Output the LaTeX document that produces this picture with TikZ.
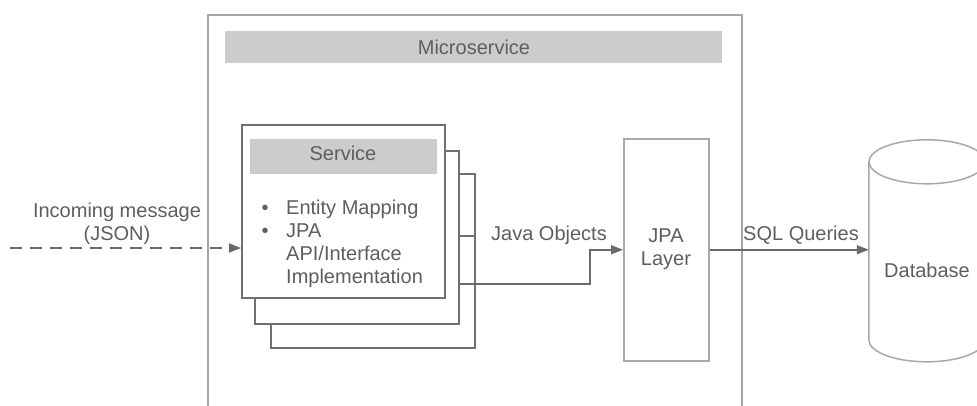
\documentclass[tikz,border=0pt]{standalone}
\usepackage{fontspec}
\setmainfont{Liberation Sans}
\usetikzlibrary{arrows.meta}

\definecolor{framegray}{HTML}{A6A6A6}
\definecolor{boxgray}{HTML}{707070}
\definecolor{lightbox}{HTML}{A8A8A8}
\definecolor{wiregray}{HTML}{6A6A6A}
\definecolor{bandfill}{HTML}{CCCCCC}
\definecolor{inkgray}{HTML}{5E5E5E}

\tikzset{
  txt/.style={inner sep=0pt, text=inkgray, font=\fontsize{20}{23}\selectfont},
  framebox/.style={draw=framegray, line width=1.6pt, fill=none, inner sep=0pt},
  band/.style={fill=bandfill, draw=none, inner sep=0pt},
  stackbox/.style={draw=boxgray, line width=1.5pt, fill=white, inner sep=0pt},
  layerbox/.style={draw=lightbox, line width=1.5pt, fill=white, inner sep=0pt},
  dbline/.style={draw=lightbox, line width=1.5pt},
  wire/.style={draw=wiregray, line width=1.5pt, line join=miter,
    -{Triangle[length=12pt,width=9pt]}},
  dashwire/.style={wire, dash pattern=on 12pt off 8pt},
}

\begin{document}
\begin{tikzpicture}[x=1pt,y=-1pt]
  \useasboundingbox (0,0) rectangle (977,405);
  \clip (0,0) rectangle (977,405);

  % outer microservice container (runs past the lower edge)
  \node[framebox, minimum width=534pt, minimum height=430pt, anchor=north west] (micro) at (207,14) {};
  \node[band, minimum width=497pt, minimum height=32pt, anchor=north west] (microhead) at (225,31) {};
  \node[txt, anchor=base] (microtitle) at (474,54) {Microservice};

  % stacked service boxes, back to front
  \node[stackbox, minimum width=204pt, minimum height=174pt, anchor=north west] (third) at (270,173) {};
  \node[stackbox, minimum width=204pt, minimum height=173pt, anchor=north west] (second) at (254,150) {};
  \draw[draw=boxgray, line width=1.5pt] (second.east |- 0,236) -- (third.east |- 0,236);
  \node[stackbox, minimum width=203pt, minimum height=173pt, anchor=north west] (front) at (241,124) {};
  \node[band, minimum width=187pt, minimum height=35pt, anchor=north west] (servicehead) at (250,139) {};
  \node[txt, anchor=base] (servicetitle) at (343,160) {Service};

  % bullet list inside the service box
  \node[txt, anchor=base] (dot1) at (265,214) {•};
  \node[txt, anchor=base west] (item1) at (286,214) {Entity Mapping};
  \node[txt, anchor=base] (dot2) at (265,237) {•};
  \node[txt, anchor=base west] (item2) at (286,237) {JPA};
  \node[txt, anchor=base west] (item3) at (286,260) {API/Interface};
  \node[txt, anchor=base west] (item4) at (286,283) {Implementation};

  % JPA layer
  \node[layerbox, minimum width=85pt, minimum height=222pt, anchor=north west] (jpa) at (623,138) {};
  \node[txt, anchor=base] (jpa1) at (666,242) {JPA};
  \node[txt, anchor=base] (jpa2) at (666,265) {Layer};

  % database cylinder
  \node[inner sep=0pt, minimum width=116pt, minimum height=222pt] (db) at (927,251) {};
  \draw[dbline] (db.north) ++(0,22) ellipse [x radius=58, y radius=22];
  \draw[dbline] (db.north west) ++(0,22) -- ++(0,178)
    arc[start angle=180, end angle=0, x radius=58, y radius=22] -- ++(0,-178);
  \node[txt, anchor=base] (dblabel) at (927,277) {Database};

  % incoming message
  \coordinate (src) at (10,248);
  \draw[dashwire] (src) -- (front.west |- src);
  \node[txt, anchor=base] (inlabel1) at (117,217) {Incoming message};
  \node[txt, anchor=base] (inlabel2) at (117,240) {(JSON)};

  % service to JPA layer
  \coordinate (bend) at (590,284);
  \draw[wire] (second.east |- bend) -- (bend) |- (jpa.west);
  \node[txt, anchor=base] (javalabel) at (549,240) {Java Objects};

  % JPA layer to database
  \draw[wire] (jpa.east) -- (db.west |- jpa.east);
  \node[txt, anchor=base] (sqllabel) at (801,240) {SQL Queries};
\end{tikzpicture}
\end{document}
